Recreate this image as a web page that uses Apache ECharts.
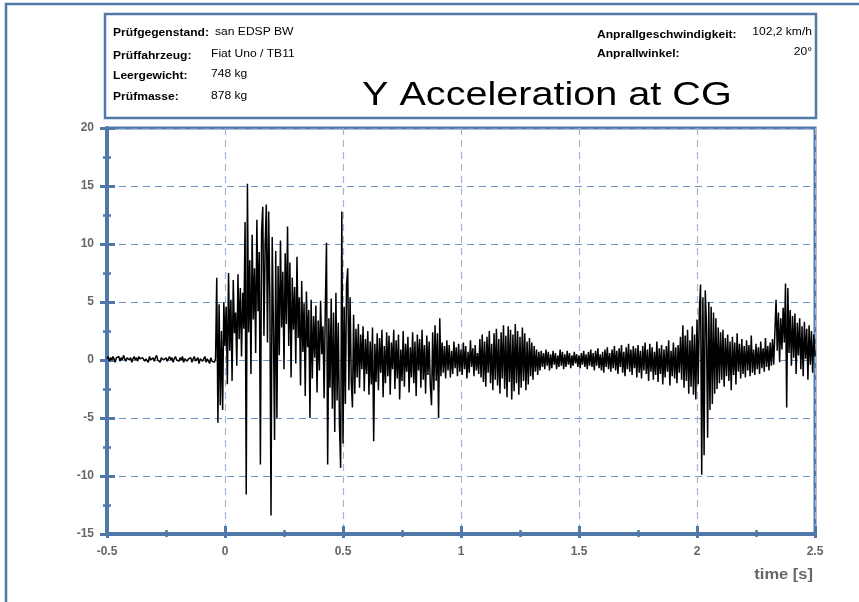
<!DOCTYPE html>
<html>
<head>
<meta charset="utf-8">
<script src="https://cdn.jsdelivr.net/npm/echarts@6/dist/echarts.min.js"></script>
<style>
html,body{margin:0;padding:0;background:#fff;}
#chart{width:859px;height:602px;}
</style>
</head>
<body>
<div id="chart"></div>
<script>
// ---- Data ----
var titleText = 'Y Acceleration at CG';
var headerLeftLabels = ['Prüfgegenstand:', 'Prüffahrzeug:', 'Leergewicht:', 'Prüfmasse:'];
var headerLeftValues = ['san EDSP BW', 'Fiat Uno / TB11', '748 kg', '878 kg'];
var headerRightLabels = ['Anprallgeschwindigkeit:', 'Anprallwinkel:'];
var headerRightValues = ['102,2 km/h', '20°'];
var xAxisName = 'time [s]';

var tStart = -0.5;   // s, first sample
var tStep = 0.005;   // s, sample spacing

// Y acceleration [g] samples
var baseline = [
  0.1, 0.3, -0.1, 0.2, 0.0, 0.3, 0.1, -0.2, 0.2, 0.1,
  0.3, -0.1, 0.2, 0.0, 0.4, 0.1, -0.1, 0.2, 0.3, 0.0,
  0.2, -0.2, 0.1, 0.3, 0.0, 0.2, -0.1, 0.3, 0.1, 0.0,
  0.2, 0.3, -0.1, 0.1, 0.2, -0.2, 0.3, 0.0, 0.1, 0.2,
  -0.1, 0.2, 0.4, 0.0, 0.1, -0.2, 0.2, 0.3, 0.0, 0.1,
  0.2, -0.1, 0.1, 0.3, 0.0, 0.2, -0.2, 0.1, 0.3, 0.0,
  0.1, -0.1, 0.2, 0.0, 0.3, -0.2, 0.1, 0.2, -0.1, 0.1,
  0.0, 0.2, -0.2, 0.1, 0.3, -0.1, 0.0, 0.2, -0.3, 0.1,
  0.2, -0.1, 0.0, 0.3, -0.2, 0.1, 0.0, -0.3, 0.2, -0.1,
  0.0, -0.2, 0.1
];
var impactPhase = [
  7.1, -5.4, 4.8, -3.9, 2.5, -4.3, 5.0,
  1.2, 4.6, -2.1, 7.5, 0.8, 5.2, -1.8, 6.9, 2.3, 4.1,
  -0.5, 7.4, 1.8, 6.2, 0.3, 5.8, 2.7, 11.9, -11.6, 15.2,
  2.4, 8.6, -1.2, 10.8, 3.5, 7.9, 0.6, 12.1, 4.2, 9.3,
  -9.0, 11.0, 13.2, 2.1, 9.8, 13.4, 1.5, 12.8, 5.3, -13.4,
  10.6, 3.2, -6.9, 9.4, -5.0, 8.1, 0.4, 10.3, 2.8, 7.6,
  -0.8, 9.2, 3.1, 11.5, 1.2, 8.4, -1.5, 7.1, 2.6, 6.3,
  -0.3, 8.9, 1.9, 5.4, -2.2, 6.8, 0.7, 4.9, -3.1, 5.9,
  1.1, 4.3, -5.0, 5.2, -1.6, 3.8, 0.2, 4.7, -2.8, 3.4,
  -0.9, 5.1, 0.5, 2.9, -3.3, 4.4, 10.1, -9.0, 3.6, -2.4,
  5.3, -4.2, 4.1, -6.2, 5.8, -3.5, 3.2, -5.6, -9.3, 12.8,
  -7.2, 4.6, -3.8, 6.5, 7.9, -2.6, 5.4, -1.8, -4.1, 3.9,
  -2.9, 2.7, -1.5, 3.1, -2.4, 2.2, -0.8, 2.9, -2.7, 1.8,
  -1.2, 2.5, -3.0, 1.6, -2.1, 2.8, -7.0, 1.4, -1.9, 2.3
];
var midPhase = [
  -2.6, 1.9, -1.1, 2.6, -3.2, 1.2, -2.0, 2.4, -1.4, 2.1,
  -3.0, 1.5, -0.8, 2.6, -2.5, 1.7, -1.6, 2.2, -3.4, 0.9,
  -1.8, 2.5, -2.3, 1.4, -1.0, 2.0, -2.8, 1.1, -1.5, 2.4,
  -2.0, 1.6, -3.1, 2.2, -0.9, 1.8, -2.4, 2.6, -1.7, 1.3,
  -2.9, 2.1, -1.3, 1.6, -2.2, -3.9, 2.4, -2.6, 3.0, -1.8,
  2.3, -5.0, 3.6, -1.4, 1.5, -1.1, 1.2, -1.6, 1.7, -0.9,
  1.3, -1.5, 0.8, -1.2, 1.6, -0.7, 1.1, -1.4, 1.4, -1.0,
  0.9, -1.3, 1.5, -0.8, 1.2, -1.6, 0.7, -1.1, 1.7, -0.6,
  1.0, -1.4, 1.3, -0.9, 0.6, -1.2, 1.8, -1.5, 2.2, -1.9,
  1.6, -2.3, 2.0, -1.1, 2.5, -2.0, 1.4, -2.6, 2.3, -1.7,
  2.7, -2.2, 1.8, -2.9, 2.4, -1.6, 3.0, -2.5, 2.1, -3.2,
  2.9, -1.9, 2.6, -3.4, 2.2, -2.7, 3.1, -2.0, 2.5, -3.0,
  2.0, -2.4, 2.8, -1.8, 2.3, -2.6, 1.6, -2.1, 1.9, -1.4,
  1.5, -1.7, 1.2, -1.0, 0.9, -1.3, 0.7, -0.9, 0.8, -0.6,
  0.6, -0.8, 0.9, -0.5, 0.7, -0.9, 0.5, -0.7, 0.8, -0.4,
  0.6, -0.8, 0.4, -0.6, 0.9, -0.5, 0.7, -0.8, 0.5, -0.6,
  0.8, -0.4, 0.6, -0.7, 0.4, -0.5, 0.7, -0.3, 0.5, -0.6
];
var latePhase = [
  0.4, -0.7, 0.6, -0.4, 0.8, -0.6, 0.5, -0.8, 0.7, -0.5,
  0.9, -0.6, 0.6, -0.9, 0.8, -0.5, 1.0, -0.7, 0.5, -0.9,
  0.7, -1.1, 0.9, -0.6, 1.1, -0.8, 0.6, -1.0, 0.9, -0.7,
  1.2, -0.9, 0.8, -1.2, 1.0, -0.6, 1.3, -1.1, 0.7, -1.4,
  1.1, -0.8, 1.4, -1.0, 0.9, -1.3, 1.2, -0.7, 1.0, -1.5,
  1.3, -1.1, 0.8, -1.6, 1.2, -0.9, 1.5, -1.2, 0.9, -1.8,
  1.4, -1.0, 1.1, -1.7, 0.7, -1.3, 1.6, -1.9, 1.0, -1.2,
  1.3, -2.1, 0.9, -1.5, 1.2, -1.0, 1.7, -2.2, 0.8, -1.4,
  1.5, -1.6, 1.1, -2.0, 1.3, -1.1, 2.0, -1.7, 3.0, -2.4,
  2.1, -1.8, 2.6, -2.9, 1.7, -2.3, 2.9, -3.0, 2.2, -3.4,
  3.5, -2.1, 4.2, 6.5, -9.9, 5.4, -8.2, 6.0, 3.1, -6.7,
  5.0, -4.3, 4.6, -3.8, 4.1, -2.9, 3.6, -2.5, 2.8, -2.0,
  2.4, -1.7, 2.6, -2.3, 1.9, -1.4, 2.2, -1.8, 1.6, -2.6,
  2.0, -1.3, 1.5, -2.1, 2.3, -1.0, 1.4, -1.6, 1.8, -1.2,
  1.2, -1.5, 1.7, -0.9, 1.3, -1.4, 2.1, -1.1, 0.9, -1.3,
  1.4, -0.8, 1.1, -1.2, 1.6, -0.7, 1.0, -1.0, 1.9, -0.6,
  1.2, -0.9, 1.5, -0.5, 1.8, -0.4, 2.4, 5.2, 0.8, 4.1,
  -0.2, 3.6, 0.9, 4.5, 1.5, 6.6, -4.1, 6.2, 0.6, 4.3,
  -0.5, 3.8, 0.2, 4.0, -1.2, 3.2, 0.4, 3.6, -0.8, 2.9,
  -1.4, 3.3, 0.1, 2.7, -1.7, 3.0, -0.4, 2.5, -1.1, 2.2,
  0.3
];

// ---- Build ----
var signal = baseline.concat(impactPhase, midPhase, latePhase);
var seriesData = signal.map(function (v, i) {
  return [Math.round((tStart + i * tStep) * 10000) / 10000, v];
});

var BLUE = '#5078a9';
var GREY = '#666666';
var FONT = '"Liberation Sans", Arial, sans-serif';
var SX = 1.15;

var chart = echarts.init(document.getElementById('chart'), null, {renderer: 'canvas'});

var graphics = [
  // outer frame (top & left edges visible)
  {type: 'polyline', shape: {points: [[6, 602], [6, 4], [859, 4]]},
   style: {stroke: BLUE, lineWidth: 2.5, fill: null}, z: 10},
  // header box
  {type: 'rect', shape: {x: 105, y: 14, width: 711, height: 104},
   style: {stroke: BLUE, lineWidth: 2.5, fill: '#fff'}, z: 10}
];
var leftLabelY = [33, 56, 76, 97];
var leftValueY = [32, 54, 74, 96];
var leftValueX = [215, 211, 211, 211];
headerLeftLabels.forEach(function (t, i) {
  graphics.push({type: 'text', x: 113, y: leftLabelY[i], scaleX: SX, z: 11,
    style: {text: t, x: 0, y: 0, fill: '#000', font: 'bold 10.5px ' + FONT,
      textAlign: 'left', textVerticalAlign: 'middle'}});
  graphics.push({type: 'text', x: leftValueX[i], y: leftValueY[i], scaleX: SX, z: 11,
    style: {text: headerLeftValues[i], x: 0, y: 0, fill: '#000', font: '10.5px ' + FONT,
      textAlign: 'left', textVerticalAlign: 'middle'}});
});
var rightY = [35, 54];
var rightValY = [32, 52];
headerRightLabels.forEach(function (t, i) {
  graphics.push({type: 'text', x: 597, y: rightY[i], scaleX: SX, z: 11,
    style: {text: t, x: 0, y: 0, fill: '#000', font: 'bold 10.5px ' + FONT,
      textAlign: 'left', textVerticalAlign: 'middle'}});
  graphics.push({type: 'text', x: 812, y: rightValY[i], scaleX: SX, z: 11,
    style: {text: headerRightValues[i], x: 0, y: 0, fill: '#000', font: '10.5px ' + FONT,
      textAlign: 'right', textVerticalAlign: 'middle'}});
});
graphics.push({type: 'text', x: 362, y: 112, scaleX: 1.2, z: 11,
  style: {text: titleText, x: 0, y: 0, fill: '#000', font: '33px ' + FONT,
    textAlign: 'left', textVerticalAlign: 'bottom'}});
graphics.push({type: 'text', x: 813, y: 575, scaleX: 1.1, z: 11,
  style: {text: xAxisName, x: 0, y: 0, fill: GREY, font: 'bold 15px ' + FONT,
    textAlign: 'right', textVerticalAlign: 'middle'}});

function xAx(inside, primary) {
  return {
    type: 'value', min: -0.5, max: 2.5, interval: 0.5, position: 'bottom',
    axisLine: {show: primary, onZero: false, lineStyle: {color: BLUE, width: 4}},
    axisTick: {show: true, inside: inside, length: inside ? 8 : 4, lineStyle: {color: BLUE, width: 3}},
    minorTick: {show: true, splitNumber: 2, length: inside ? 4 : 3, lineStyle: {color: BLUE, width: 2.5}},
    axisLabel: {show: primary, margin: 12, color: GREY, fontWeight: 'bold', fontSize: 12, fontFamily: FONT},
    splitLine: {show: primary, lineStyle: {color: '#9fb7d6', type: [7, 5], width: 1.2}},
    minorSplitLine: {show: false}
  };
}
function yAx(inside, primary) {
  return {
    type: 'value', min: -15, max: 20, interval: 5, position: 'left',
    axisLine: {show: primary, onZero: false, lineStyle: {color: BLUE, width: 4}},
    axisTick: {show: true, inside: inside, length: inside ? 8 : 7, lineStyle: {color: BLUE, width: 3}},
    minorTick: {show: true, splitNumber: 2, length: 4, lineStyle: {color: BLUE, width: 2.5}},
    axisLabel: {show: primary, margin: 13, color: GREY, fontWeight: 'bold', fontSize: 12, fontFamily: FONT},
    splitLine: {show: primary, lineStyle: {color: '#6f93c0', type: [7, 5], width: 1.2}},
    minorSplitLine: {show: false}
  };
}

chart.setOption({
  animation: false,
  backgroundColor: '#fff',
  grid: {left: 107, top: 128, right: 44, bottom: 68, show: true,
    borderColor: BLUE, borderWidth: 3, backgroundColor: 'transparent'},
  xAxis: [xAx(false, true), xAx(true, false)],
  yAxis: [yAx(false, true), yAx(true, false)],
  series: [{
    type: 'line', xAxisIndex: 0, yAxisIndex: 0,
    data: seriesData, showSymbol: false, symbol: 'none',
    lineStyle: {color: '#000', width: 1.5}, z: 3
  }],
  graphic: graphics
});
</script>
</body>
</html>
